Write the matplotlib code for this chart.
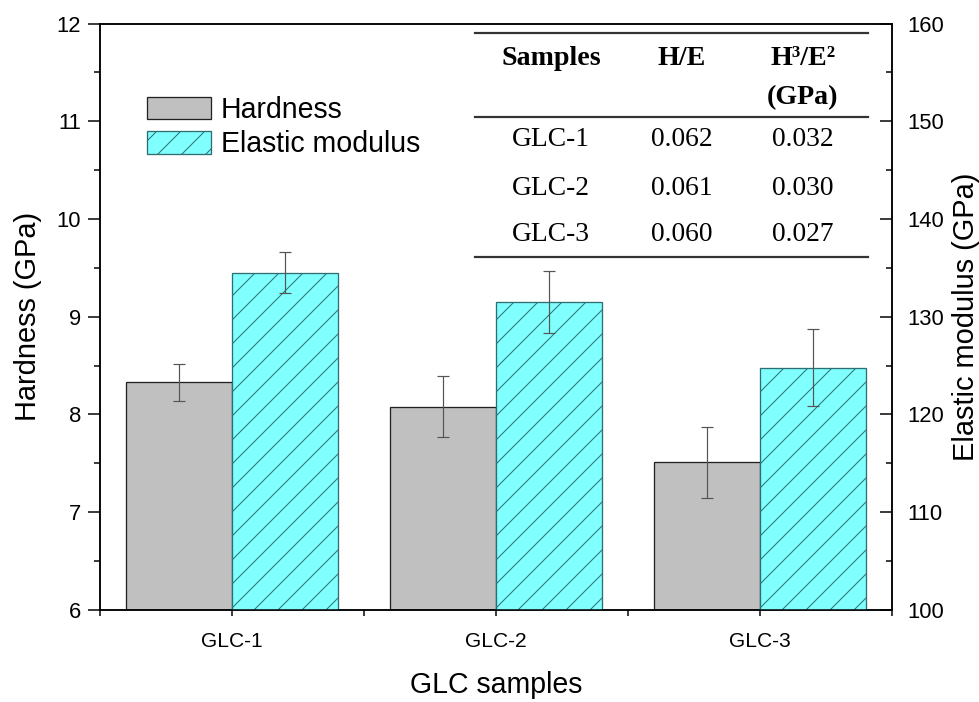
import numpy as np
import matplotlib
matplotlib.use('Agg')
import matplotlib.pyplot as plt
from matplotlib.patches import Patch

# dpi 72 so that 1 pt == 1 px (and the hatch cell matches the reference)
DPI = 72
plt.rcParams['font.family'] = ['Liberation Sans', 'DejaVu Sans']
plt.rcParams['hatch.color'] = '#2e6e72'
plt.rcParams['hatch.linewidth'] = 1.0

# data
samples = ['GLC-1', 'GLC-2', 'GLC-3']
hardness = [8.33, 8.08, 7.51]
hardness_err = [0.19, 0.315, 0.365]
modulus = [134.5, 131.5, 124.8]
modulus_err = [2.1, 3.2, 3.95]

table_cols = ['Samples', 'H/E', 'H\u00b3/E\u00b2']
h_over_e = ['0.062', '0.061', '0.060']
h3_over_e2 = ['0.032', '0.030', '0.027']

fig = plt.figure(figsize=(979 / DPI, 702 / DPI), dpi=DPI)
ax = fig.add_axes([0.1021, 0.1311, 0.8090, 0.8354])
ax2 = ax.twinx()

x = np.arange(1, len(samples) + 1)
w = 0.4
err_kw = dict(ecolor='#555555', elinewidth=1.2, capsize=6, capthick=1.2)

ax.bar(x - w / 2, hardness, w, yerr=hardness_err,
       color='#c0c0c0', edgecolor='#222222', linewidth=1.3,
       error_kw=err_kw, label='Hardness')
ax2.bar(x + w / 2, modulus, w, yerr=modulus_err,
        color='#80ffff', edgecolor='#2e6e72', linewidth=1.3,
        hatch='/', error_kw=err_kw, label='Elastic modulus')

ax.set_xlim(0.5, 3.5)
ax.set_ylim(6, 12)
ax2.set_ylim(100, 160)

ax.set_xticks(x)
ax.set_xticklabels(samples)
ax.set_xticks([0.5, 1.5, 2.5, 3.5], minor=True)
ax.set_yticks(np.arange(6, 12.1, 1))
ax.set_yticks(np.arange(6.5, 12, 1), minor=True)
ax2.set_yticks(np.arange(100, 161, 10))
ax2.set_yticks(np.arange(105, 160, 10), minor=True)

ax.tick_params(axis='y', which='major', direction='out', length=12, width=1.5,
               labelsize=22, pad=7)
ax.tick_params(axis='y', which='minor', direction='out', length=6, width=1.5)
ax.tick_params(axis='x', which='both', direction='out', length=6, width=1.5,
               labelsize=21, pad=16)
ax.tick_params(top=False)
ax2.tick_params(axis='y', which='major', direction='in', length=12, width=1.5,
                labelsize=22, pad=15)
ax2.tick_params(axis='y', which='minor', direction='in', length=6, width=1.5)

for a in (ax, ax2):
    for s in a.spines.values():
        s.set_linewidth(1.5)

ax.set_xlabel('GLC samples', fontsize=28.5, labelpad=20)
ax.set_ylabel('Hardness (GPa)', fontsize=29, labelpad=14)
ax2.set_ylabel('Elastic modulus (GPa)', fontsize=29, labelpad=8)

ax2.legend([Patch(facecolor='#c0c0c0', edgecolor='#222222', linewidth=1.3),
            Patch(facecolor='#80ffff', edgecolor='#2e6e72', linewidth=1.3, hatch='/')],
           ['Hardness', 'Elastic modulus'],
           loc='upper left', bbox_to_anchor=(0.0593, 0.877), frameon=False,
           fontsize=28.5, handlelength=2.25, handleheight=0.84,
           handletextpad=0.35, labelspacing=0.24, borderpad=0, borderaxespad=0)

# inset table (axes coordinates)
serif = ['Liberation Serif', 'DejaVu Serif']
col_x = [0.5694, 0.7348, 0.8876]
row_y = [0.8014, 0.7195, 0.6394]
for yy in (0.9838, 0.8406, 0.6019):
    ax2.plot([0.4735, 0.9697], [yy, yy], color='#333333', lw=2.2,
             transform=ax2.transAxes, clip_on=False)
for j, head in enumerate(table_cols):
    ax2.text(col_x[j], 0.9412, head, transform=ax2.transAxes,
             ha='center', va='center', fontsize=28, fontweight='bold', family=serif)
ax2.text(col_x[2], 0.874, '(GPa)', transform=ax2.transAxes,
         ha='center', va='center', fontsize=28, fontweight='bold', family=serif)
for i, s in enumerate(samples):
    for j, val in enumerate([s, h_over_e[i], h3_over_e2[i]]):
        ax2.text(col_x[j], row_y[i], val, transform=ax2.transAxes,
                 ha='center', va='center', fontsize=27.5, family=serif)

fig.savefig('out.png', dpi=DPI)
